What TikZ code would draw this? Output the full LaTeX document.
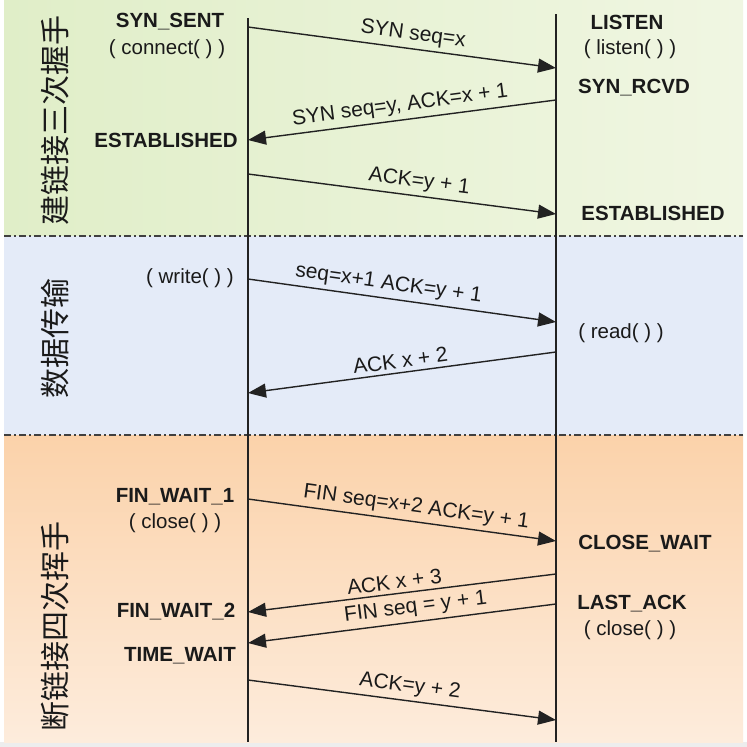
\documentclass[tikz,border=0pt]{standalone}
\usepackage{fontspec}
\setmainfont{Liberation Sans}
\newfontfamily\cjk{Noto Sans CJK SC}
\usetikzlibrary{arrows.meta}
\definecolor{txt}{HTML}{1A1A1A}
\definecolor{lin}{HTML}{222222}
\begin{document}
\begin{tikzpicture}[x=1pt,y=-1pt,
  state/.style={font=\fontsize{20.5}{22}\selectfont\bfseries, text=txt, inner sep=0pt},
  call/.style={font=\fontsize{20.5}{22}\selectfont, text=txt, inner sep=0pt},
  phase/.style={font=\cjk\fontsize{30}{32}\selectfont, text=txt, rotate=90, inner sep=0pt},
  msg/.style={draw=lin, line width=1.4pt, -{Triangle[length=18pt,width=14pt]}},
  lbl/.style={font=\fontsize{21}{23}\selectfont, text=txt, sloped, above, inner sep=4pt},
  life/.style={draw=lin, line width=1.5pt},
  sep/.style={draw=black!75, line width=1.3pt, dash pattern=on 7pt off 3pt on 2pt off 3pt}
]
\useasboundingbox (0,0) rectangle (747,747);
\fill[white] (0,0) rectangle (747,747);
\fill[black!7] (0,742) rectangle (747,747);
% bands
\shade[left color={rgb,255:red,224;green,238;blue,200}, right color={rgb,255:red,240;green,246;blue,226}] (4,0) rectangle (743,236);
\shade[left color={rgb,255:red,228;green,235;blue,248}, middle color={rgb,255:red,186;green,208;blue,238}, right color={rgb,255:red,228;green,235;blue,248}] (4,236) rectangle (743,435);
\shade[top color={rgb,255:red,251;green,210;blue,170}, bottom color={rgb,255:red,253;green,236;blue,220}] (4,435) rectangle (743,742);
% separators
\coordinate (s1a) at (4,236); \coordinate (s1b) at (743,236);
\coordinate (s2a) at (4,435); \coordinate (s2b) at (743,435);
\draw[sep] (s1a) -- (s1b);
\draw[sep] (s2a) -- (s2b);
% lifelines
\coordinate (L0) at (248,18); \coordinate (L1) at (248,742);
\coordinate (R0) at (556,14); \coordinate (R1) at (556,742);
\draw[life] (L0) -- (L1);
\draw[life] (R0) -- (R1);
% phase labels
\node[phase] (p1) at (55,120) {建链接三次握手};
\node[phase] (p2) at (55,338) {数据传输};
\node[phase] (p3) at (55,626) {断链接四次挥手};
% left states
\node[state] (synsent) at (170,22) {SYN\_SENT};
\node[call] (connect) at (167,49) {( connect( ) )};
\node[state] (estL) at (166,140) {ESTABLISHED};
\node[call] (write) at (190,278) {( write( ) )};
\node[state] (fw1) at (175,497) {FIN\_WAIT\_1};
\node[call] (closeL) at (175,523) {( close( ) )};
\node[state] (fw2) at (176,612) {FIN\_WAIT\_2};
\node[state] (tw) at (180,656) {TIME\_WAIT};
% right states
\node[state] (listen) at (627,22) {LISTEN};
\node[call] (listenc) at (630,49) {( listen( ) )};
\node[state] (synrcvd) at (634,88) {SYN\_RCVD};
\node[state] (estR) at (653,213) {ESTABLISHED};
\node[call] (read) at (621,333) {( read( ) )};
\node[state] (cw) at (645,544) {CLOSE\_WAIT};
\node[state] (la) at (632,604) {LAST\_ACK};
\node[call] (closeR) at (630,630) {( close( ) )};
% message endpoints
\coordinate (m1s) at (248,27);  \coordinate (m1e) at (556,68);
\coordinate (m2s) at (556,100); \coordinate (m2e) at (248,140);
\coordinate (m3s) at (248,174); \coordinate (m3e) at (556,214);
\coordinate (m4s) at (248,279); \coordinate (m4e) at (556,322);
\coordinate (m5s) at (556,352); \coordinate (m5e) at (248,393);
\coordinate (m6s) at (248,499); \coordinate (m6e) at (556,541);
\coordinate (m7s) at (556,574); \coordinate (m7e) at (248,612);
\coordinate (m8s) at (556,604); \coordinate (m8e) at (248,643);
\coordinate (m9s) at (248,680); \coordinate (m9e) at (556,720);
% messages
\draw[msg] (m1s) -- node[lbl, pos=0.53] {SYN seq=x} (m1e);
\draw[msg] (m2s) -- node[lbl, pos=0.5] {SYN seq=y, ACK=x + 1} (m2e);
\draw[msg] (m3s) -- node[lbl, pos=0.55] {ACK=y + 1} (m3e);
\draw[msg] (m4s) -- node[lbl, pos=0.45] {seq=x+1 ACK=y + 1} (m4e);
\draw[msg] (m5s) -- node[lbl, pos=0.5] {ACK x + 2} (m5e);
\draw[msg] (m6s) -- node[lbl, pos=0.54] {FIN seq=x+2 ACK=y + 1} (m6e);
\draw[msg] (m7s) -- node[lbl, pos=0.52] {ACK x + 3} (m7e);
\draw[msg] (m8s) -- node[lbl, pos=0.45] {FIN seq = y + 1} (m8e);
\draw[msg] (m9s) -- node[lbl, pos=0.52] {ACK=y + 2} (m9e);
\end{tikzpicture}
\end{document}
